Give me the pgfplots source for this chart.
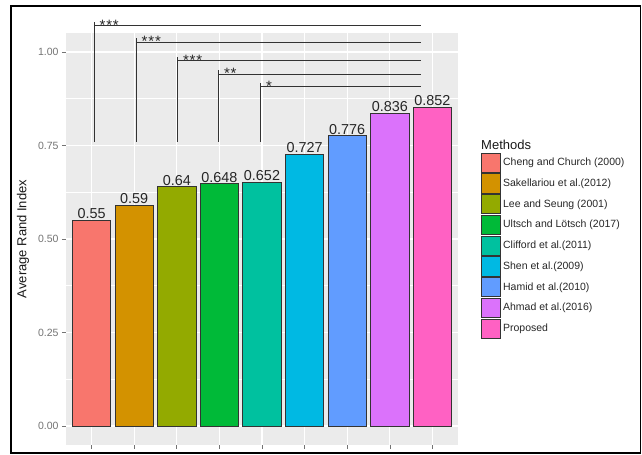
\documentclass[border=0pt]{standalone}
\usepackage{fontspec}
\setmainfont{Liberation Sans}
\usepackage{pgfplots}
\pgfplotsset{compat=1.18}
\definecolor{c1}{HTML}{F8766D}
\definecolor{c2}{HTML}{D39200}
\definecolor{c3}{HTML}{93AA00}
\definecolor{c4}{HTML}{00BA38}
\definecolor{c5}{HTML}{00C19F}
\definecolor{c6}{HTML}{00B9E3}
\definecolor{c7}{HTML}{619CFF}
\definecolor{c8}{HTML}{DB72FB}
\definecolor{c9}{HTML}{FF61C3}
\definecolor{panel}{HTML}{EBEBEB}
\pgfplotsset{
  barst/.style={ybar, bar width=0.9, bar shift=0pt, draw=black!80, line width=0.8bp, fill=#1,
    nodes near coords, point meta=explicit symbolic},
  br/.style={forget plot, black!80, line width=0.9bp, mark=none},
}
\begin{document}
\begin{tikzpicture}
\useasboundingbox (0,0) rectangle (642bp,455bp);
\begin{axis}[
  at={(66bp,10.3bp)}, anchor=south west,
  scale only axis, width=392bp, height=411.4bp,
  xmin=0.4, xmax=9.6, ymin=-0.05, ymax=1.05,
  clip=false,
  axis background/.style={fill=panel},
  axis line style={draw=none},
  xtick={1,2,3,4,5,6,7,8,9}, xticklabels={},
  ytick={0,0.25,0.5,0.75,1}, yticklabels={0.00,0.25,0.50,0.75,1.00},
  minor ytick={0.125,0.375,0.625,0.875},
  xmajorgrids, ymajorgrids, yminorgrids,
  major grid style={white, line width=1.1bp},
  minor grid style={white, line width=0.55bp},
  tick align=outside, major tick length=4bp, minor tick length=0pt,
  xtick pos=bottom, ytick pos=left,
  tick style={black!55, line width=0.6bp},
  yticklabel style={font=\fontsize{10.5bp}{12bp}\selectfont, text=black!55},
  ylabel={Average Rand Index},
  ylabel style={at={(axis description cs:-0.1097,0.5)}, anchor=center, font=\fontsize{13bp}{15bp}\selectfont, text=black!90},
  nodes near coords style={anchor=south, inner sep=0pt, yshift=1bp, font=\fontsize{14.4bp}{16bp}\selectfont, text=black!85},
  legend style={at={(axis description cs:1.0587,0.7108)}, anchor=north west, draw=none, fill=none,
    inner sep=0pt, outer sep=0pt, row sep=0pt,
    font=\fontsize{10.5bp}{12bp}\selectfont, text=black!85,
    nodes={inner xsep=2bp, inner ysep=0pt, minimum height=20.75bp}},
  legend cell align=left,
  legend image code/.code={\draw[#1, line width=0.8bp] (0bp,-9.65bp) rectangle (19.3bp,9.65bp);},
]
\addplot[barst=c1] coordinates {(1,0.55) [0.55]};
\addlegendentry{Cheng and Church (2000)}
\addplot[barst=c2] coordinates {(2,0.59) [0.59]};
\addlegendentry{Sakellariou et al.(2012)}
\addplot[barst=c3] coordinates {(3,0.64) [0.64]};
\addlegendentry{Lee and Seung (2001)}
\addplot[barst=c4] coordinates {(4,0.648) [0.648]};
\addlegendentry{Ultsch and Lötsch (2017)}
\addplot[barst=c5] coordinates {(5,0.652) [0.652]};
\addlegendentry{Clifford et al.(2011)}
\addplot[barst=c6] coordinates {(6,0.727) [0.727]};
\addlegendentry{Shen et al.(2009)}
\addplot[barst=c7] coordinates {(7,0.776) [0.776]};
\addlegendentry{Hamid et al.(2010)}
\addplot[barst=c8] coordinates {(8,0.836) [0.836]};
\addlegendentry{Ahmad et al.(2016)}
\addplot[barst=c9] coordinates {(9,0.852) [0.852]};
\addlegendentry{Proposed}
% significance brackets
\addplot[br] coordinates {(1.057,0.760) (1.057,1.081)};
\addplot[br] coordinates {(1.057,1.0703) (8.73,1.0703)};
\addplot[br] coordinates {(2.043,0.760) (2.043,1.0366)};
\addplot[br] coordinates {(2.043,1.0259) (8.73,1.0259)};
\addplot[br] coordinates {(3.013,0.760) (3.013,0.9874)};
\addplot[br] coordinates {(3.013,0.9767) (8.73,0.9767)};
\addplot[br] coordinates {(3.975,0.760) (3.975,0.9519)};
\addplot[br] coordinates {(3.975,0.9412) (8.73,0.9412)};
\addplot[br] coordinates {(4.961,0.760) (4.961,0.9179)};
\addplot[br] coordinates {(4.961,0.9072) (8.73,0.9072)};
\node[anchor=base west, inner sep=0pt, font=\fontsize{15bp}{16bp}\selectfont, text=black!85] at (axis cs:1.187,1.058) {*\kern0.8bp*\kern0.8bp*};
\node[anchor=base west, inner sep=0pt, font=\fontsize{15bp}{16bp}\selectfont, text=black!85] at (axis cs:2.173,1.014) {*\kern0.8bp*\kern0.8bp*};
\node[anchor=base west, inner sep=0pt, font=\fontsize{15bp}{16bp}\selectfont, text=black!85] at (axis cs:3.143,0.965) {*\kern0.8bp*\kern0.8bp*};
\node[anchor=base west, inner sep=0pt, font=\fontsize{15bp}{16bp}\selectfont, text=black!85] at (axis cs:4.105,0.929) {*\kern0.8bp*};
\node[anchor=base west, inner sep=0pt, font=\fontsize{15bp}{16bp}\selectfont, text=black!85] at (axis cs:5.091,0.895) {*};
\end{axis}
\node[anchor=west, inner sep=0pt, font=\fontsize{13bp}{15bp}\selectfont, text=black!90] at (481bp,310bp) {Methods};
\draw[line width=1.6bp] (11bp,2bp) rectangle (640.5bp,449bp);
\end{tikzpicture}
\end{document}
